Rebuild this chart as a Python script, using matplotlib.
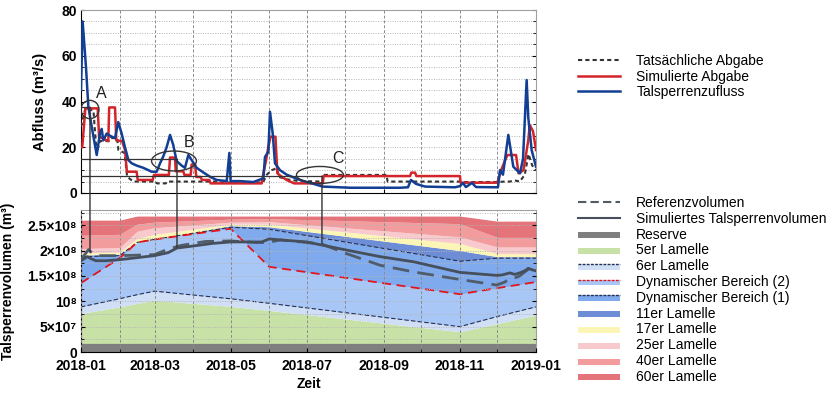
import numpy as np
import matplotlib
matplotlib.use('Agg')
import matplotlib.pyplot as plt
import matplotlib.dates as mdates
from matplotlib.patches import Ellipse, Rectangle, Patch, ConnectionPatch
from matplotlib.lines import Line2D
from matplotlib.legend_handler import HandlerBase
from matplotlib.ticker import MultipleLocator, FixedLocator, FixedFormatter

FAM = ['Liberation Sans', 'DejaVu Sans']
plt.rcParams['font.family'] = FAM

# ---------------- data (days since 2018-01-01) ----------------
inflow_days = [0, 1.3, 4, 5.9, 8.6, 12.6, 15.2, 16.6, 17.9, 20.6, 23.3, 27.3, 29.9, 32.6, 35.3, 38, 40.6,
               44.6, 50, 56.7, 60.7, 63.4, 66, 68.7, 71.4, 74, 76.7, 80.7, 83.4, 86.1, 88.8, 92.8, 98.1,
               103.5, 108.8, 116.9, 119, 120, 127.5, 138.2, 146.3, 147.6, 150.3, 151.6, 153.8, 155.6, 159.6,
               165, 175.7, 194, 215.8, 256, 262.3, 264.7, 268.7, 276, 300, 304, 306.4, 308.8, 313.6, 316.9,
               334.5, 336.1, 338.5, 342.8, 346.8, 352.2, 354.6, 357.5, 358.8, 361.5, 365]
inflow_vals = [45, 75, 55, 37.7, 29, 16.6, 26, 28, 23, 26, 25, 24, 31, 26, 20, 14.4, 13,
               12, 11, 9.3, 9.3, 13, 16, 20, 25.4, 21, 14, 12, 11, 16.6, 14.4, 11, 9,
               7.1, 5.7, 5.2, 17.5, 5.2, 5.2, 4.8, 6.4, 15.8, 18, 35.5, 26, 13, 10,
               8, 5.7, 2.8, 2.3, 2.3, 2.5, 5.7, 4, 2.8, 2.5, 3.0, 4.4, 2.6, 4.4, 2.6,
               2.5, 10, 8, 25.4, 11.5, 8.6, 15, 49.4, 33, 18.8, 11.5]

sim_out_days = [0, 1, 3.5, 13.4, 14.5, 21.9, 22.6, 27.3, 28.3, 33, 35.3, 36.8, 44.6, 45.5, 57.5, 58.5,
                70.5, 71.4, 75.4, 76, 82, 83, 88, 88.8, 91.5, 92.5, 96, 97, 103, 104, 145, 146.3, 148.5,
                150.3, 152, 156, 157.5, 160, 165, 171, 194, 194.5, 264, 265, 268, 269, 304, 304.5, 334,
                337, 342, 349, 351, 355, 358.8, 360, 362.6, 365]
sim_out_vals = [20, 20, 37, 37, 24.6, 22.7, 37.4, 37.4, 23, 22.7, 18.8, 9.3, 9.3, 5.7, 5.7, 7.9,
                7.9, 15.5, 15.5, 9.5, 9.5, 7.9, 7.9, 12.5, 12.5, 7, 7, 5.7, 5.7, 4.2, 4.2, 8.6, 14.4,
                20.2, 24.6, 24.6, 8.6, 7.5, 5.7, 4.2, 4.2, 7.4, 7.4, 8.9, 8.9, 7.4, 7.4, 4.5, 4.5,
                10, 16.6, 16.6, 8.6, 10, 23, 29.7, 27, 18.8]

act_out_days = [0, 3.5, 10, 12.5, 15.2, 23, 24, 29, 30, 35, 37, 42, 60, 61, 68, 69, 108, 109, 146,
                149, 153, 157, 159, 165, 175, 194, 194.5, 245, 246, 304, 305, 334, 340, 344, 348, 352,
                356, 359, 362, 365]
act_out_vals = [29, 37, 36, 17.5, 22.7, 22.7, 24, 24, 18.8, 17.5, 7.1, 5, 5, 4.2, 4.2, 5, 5, 4.6, 4.6,
                8, 10, 10.8, 7, 6, 5.2, 5, 7.9, 7.9, 5, 5, 4.8, 4.8, 5, 5, 5.5, 5,
                8, 17, 12, 10]

layer_days = [0, 31, 45, 59, 120, 151, 304, 334, 365]
reserve_top = [1.7e7, 1.7e7, 1.7e7, 1.7e7, 1.7e7, 1.7e7, 1.7e7, 1.7e7, 1.7e7]
l5_top = [7.6e7, 8.9e7, 9.6e7, 1.02e8, 9.0e7, 8.2e7, 4.0e7, 5.6e7, 7.3e7]
l6_top = [8.9e7, 1.05e8, 1.13e8, 1.2e8, 1.05e8, 9.6e7, 5.0e7, 7.0e7, 8.9e7]
dyn2_top = [1.36e8, 1.85e8, 2.16e8, 2.22e8, 2.43e8, 1.68e8, 1.14e8, 1.26e8, 1.38e8]
dyn1_top = [1.88e8, 1.9e8, 2.0e8, 2.1e8, 2.46e8, 2.42e8, 1.79e8, 1.85e8, 1.85e8]
l11_top = [1.91e8, 1.93e8, 2.05e8, 2.15e8, 2.49e8, 2.47e8, 2.0e8, 1.88e8, 1.88e8]
l17_top = [1.95e8, 1.97e8, 2.24e8, 2.32e8, 2.52e8, 2.52e8, 2.14e8, 1.94e8, 1.94e8]
l25_top = [2.04e8, 2.06e8, 2.38e8, 2.45e8, 2.56e8, 2.57e8, 2.27e8, 2.07e8, 2.07e8]
l40_top = [2.3e8, 2.32e8, 2.52e8, 2.56e8, 2.62e8, 2.63e8, 2.53e8, 2.26e8, 2.26e8]
l60_top = [2.6e8, 2.6e8, 2.68e8, 2.68e8, 2.68e8, 2.68e8, 2.68e8, 2.58e8, 2.58e8]

sim_vol_days = [0, 2, 5, 8, 12, 20, 31, 45, 59, 70, 77, 90, 105, 120, 135, 145, 151, 160, 181, 213, 240,
                266.6, 304, 333.5, 338, 344, 348, 352, 356, 358.8, 362, 365]
sim_vol_vals = [1.8e8, 1.83e8, 1.88e8, 1.84e8, 1.8e8, 1.8e8, 1.82e8, 1.86e8, 1.9e8, 1.96e8, 2.05e8, 2.09e8,
                2.14e8, 2.17e8, 2.17e8, 2.17e8, 2.23e8, 2.21e8, 2.17e8, 2.01e8, 1.88e8, 1.78e8, 1.57e8,
                1.51e8, 1.52e8, 1.56e8, 1.53e8, 1.56e8, 1.6e8, 1.65e8, 1.62e8, 1.6e8]
ref_vol_days = [0, 3, 6, 9, 13, 31, 59, 70, 80, 100, 120, 140, 150, 160, 181, 193, 213, 240, 266.6, 304,
                333.5, 340, 344, 349, 352, 356, 358.8, 362, 365]
ref_vol_vals = [1.83e8, 1.92e8, 2.02e8, 1.95e8, 1.9e8, 1.9e8, 1.92e8, 2.03e8, 2.1e8, 2.18e8, 2.19e8, 2.16e8,
                2.16e8, 2.21e8, 2.16e8, 2.13e8, 1.94e8, 1.71e8, 1.58e8, 1.43e8, 1.32e8, 1.38e8, 1.45e8,
                1.47e8, 1.5e8, 1.58e8, 1.63e8, 1.66e8, 1.62e8]

layer_names = ['Reserve', '5er Lamelle', '6er Lamelle', 'Dynamischer Bereich (2)', 'Dynamischer Bereich (1)',
               '11er Lamelle', '17er Lamelle', '25er Lamelle', '40er Lamelle', '60er Lamelle']
layer_colors = ['#7f7f7f', '#c7e1a6', '#d0def6', '#a9c7f6', '#7faaee', '#6d8ed6',
                '#fbf6b6', '#f8cacd', '#f29c9e', '#e4737a']
layer_lines = [None, None, '#25304f', '#e3151c', '#25304f', None, None, None, None, None]

y_ticks_top = [0, 20, 40, 60, 80]
vol_ticks = [0, 5e7, 1e8, 1.5e8, 2e8, 2.5e8]
vol_tick_labels = ['0', '5×10⁷', '10⁸', '1.5×10⁸', '2×10⁸', '2.5×10⁸']

# ---------------- figure ----------------
t0 = mdates.datestr2num('2018-01-01')
t1 = mdates.datestr2num('2019-01-01')


def X(days):
    return t0 + np.asarray(days, float)


fig = plt.figure(figsize=(8.32, 3.93), dpi=100)
ax1 = fig.add_axes([81 / 832, 1 - 193 / 393, 455 / 832, 183 / 393])
ax2 = fig.add_axes([81 / 832, 1 - 352 / 393, 455 / 832, 142 / 393])

for ax in (ax1, ax2):
    ax.set_xlim(t0, t1)
    ax.xaxis.set_major_locator(mdates.MonthLocator(bymonth=[1, 3, 5, 7, 9, 11]))
    ax.xaxis.set_minor_locator(mdates.MonthLocator())
    ax.xaxis.set_major_formatter(mdates.DateFormatter('%Y-%m'))
    ax.xaxis.grid(True, which='both', color='#8c8c8c', ls=(0, (3, 2)), lw=0.7)
    ax.yaxis.grid(True, which='both', color='#b5b5b5', ls=(0, (1, 1.5)), lw=0.7)
    ax.tick_params(direction='in', which='both', right=True, top=False, labelsize=10, pad=3)
    ax.tick_params(which='major', length=3)
    ax.tick_params(which='minor', length=2)
    for s in ('top', 'right'):
        ax.spines[s].set_color('#a0a0a0')
    for lab in ax.get_xticklabels() + ax.get_yticklabels():
        lab.set_fontweight('bold')

# ---- top panel ----
ax1.set_ylim(0, 80)
ax1.yaxis.set_major_locator(FixedLocator(y_ticks_top))
ax1.yaxis.set_minor_locator(MultipleLocator(5))
ax1.tick_params(labelbottom=False)
ax1.set_axisbelow(True)
ax1.plot(X(act_out_days), act_out_vals, color='#333333', ls=(0, (2, 1.5)), lw=1.5, zorder=3)
ax1.plot(X(sim_out_days), sim_out_vals, color='#d3242a', lw=1.8, zorder=4)
ax1.plot(X(inflow_days), inflow_vals, color='#123e93', lw=1.8, zorder=5)
ax1.set_ylabel('Abfluss (m³/s)', fontsize=10.5, fontweight='bold')
ax1.yaxis.set_label_coords(-0.075, 0.5)
for lab in ax1.get_yticklabels():
    lab.set_fontweight('bold')

# annotations
ann_col = '#333333'
ann = [('A', 7.2, 37.5, 14.5, 8.0, 1.97e8, 16.6, 43.6),
       ('B', 77, 14.7, 36, 8.7, 2.07e8, 86.6, 21.9),
       ('C', 193.3, 7.4, 37.7, 7.4, 2.14e8, 206, 15.3)]
ell_centers = {'A': (7.2, 36.5), 'B': (74.6, 14.0), 'C': (191.7, 7.9)}
for name, xd, yv, w, h, yb, lx, ly in ann:
    cx, cy = ell_centers[name]
    ax1.add_patch(Ellipse((X([cx])[0], cy), w, h, fill=False, ec=ann_col, lw=1, zorder=6))
    ax1.text(X([lx])[0], ly, name, fontsize=11.5, color='#222222', ha='center', va='center', zorder=6)
    ax1.plot([t0, X([xd])[0]], [yv, yv], color=ann_col, lw=0.9, zorder=6)
    cp = ConnectionPatch(xyA=(X([xd])[0], yv), coordsA=ax1.transData,
                         xyB=(X([xd])[0], yb), coordsB=ax2.transData,
                         color=ann_col, lw=1, zorder=10)
    fig.add_artist(cp)

# ---- bottom panel ----
tops = np.array([reserve_top, l5_top, l6_top, dyn2_top, dyn1_top, l11_top, l17_top, l25_top, l40_top, l60_top])
tops = np.maximum.accumulate(tops, axis=0)
lx_ = X(layer_days)
prev = np.zeros(len(layer_days))
for i in range(len(tops)):
    ax2.fill_between(lx_, prev, tops[i], color=layer_colors[i], lw=0, zorder=1)
    prev = tops[i]
for i in (2, 4):
    ax2.plot(lx_, tops[i], color=layer_lines[i], ls=(0, (4, 2)), lw=0.8, zorder=2)
ax2.plot(lx_, tops[3], color=layer_lines[3], ls=(0, (5, 3)), lw=1.3, zorder=2.2)
ax2.set_axisbelow(False)
ax2.plot(X(ref_vol_days), ref_vol_vals, color='#515c69', ls=(0, (6, 3)), lw=2, zorder=3)
ax2.plot(X(sim_vol_days), sim_vol_vals, color='#464f5c', lw=2, zorder=3.1)
ax2.set_ylim(0, 2.8e8)
ax2.yaxis.set_major_locator(FixedLocator(vol_ticks))
ax2.yaxis.set_major_formatter(FixedFormatter(vol_tick_labels))
ax2.yaxis.set_minor_locator(MultipleLocator(2.5e7))
ax2.tick_params(axis='x', pad=5)
for lab in ax2.get_xticklabels() + ax2.get_yticklabels():
    lab.set_fontweight('bold')
ax2.set_ylabel('Talsperrenvolumen (m³)', fontsize=10, fontweight='bold')
ax2.yaxis.set_label_coords(-0.145, 0.5)
ax2.set_xlabel('Zeit', fontsize=10, fontweight='bold', labelpad=3)


# ---- legends ----
class BarHandler(HandlerBase):
    def __init__(self, fc, lc=None):
        super().__init__()
        self.fc = fc
        self.lc = lc

    def create_artists(self, legend, orig_handle, xdescent, ydescent, width, height, fontsize, trans):
        hh = height * 0.6
        y0 = -ydescent + (height - hh) / 2 - 1
        arts = [Rectangle((-xdescent, y0), width, hh, facecolor=self.fc, edgecolor='none', transform=trans)]
        if self.lc:
            arts.append(Line2D([-xdescent, -xdescent + width], [y0 + hh, y0 + hh], color=self.lc,
                               ls=(0, (2, 1)), lw=1, transform=trans))
        return arts


h_top = [Line2D([], [], color='#333333', ls=(0, (2, 1.5)), lw=1.5),
         Line2D([], [], color='#d3242a', lw=1.8),
         Line2D([], [], color='#123e93', lw=1.8)]
fig.legend(h_top, ['Tatsächliche Abgabe', 'Simulierte Abgabe', 'Talsperrenzufluss'],
           loc='upper left', bbox_to_anchor=(578 / 832, 1 - 54 / 393), frameon=False,
           fontsize=10, handlelength=3.0, handletextpad=1.2, labelspacing=0.12,
           borderpad=0, borderaxespad=0)

h_bot = [Line2D([], [], color='#515c69', ls=(0, (4, 2)), lw=1.5),
         Line2D([], [], color='#464f5c', lw=1.5)]
hmap = {}
for i in range(len(layer_names)):
    p = Patch(facecolor=layer_colors[i])
    hmap[p] = BarHandler(layer_colors[i], layer_lines[i])
    h_bot.append(p)
fig.legend(h_bot, ['Referenzvolumen', 'Simuliertes Talsperrenvolumen'] + layer_names,
           handler_map=hmap, loc='upper left', bbox_to_anchor=(578 / 832, 1 - 196 / 393), frameon=False,
           fontsize=10, handlelength=3.0, handletextpad=1.2, labelspacing=0.13,
           borderpad=0, borderaxespad=0)

fig.savefig('out.png', dpi=100)
